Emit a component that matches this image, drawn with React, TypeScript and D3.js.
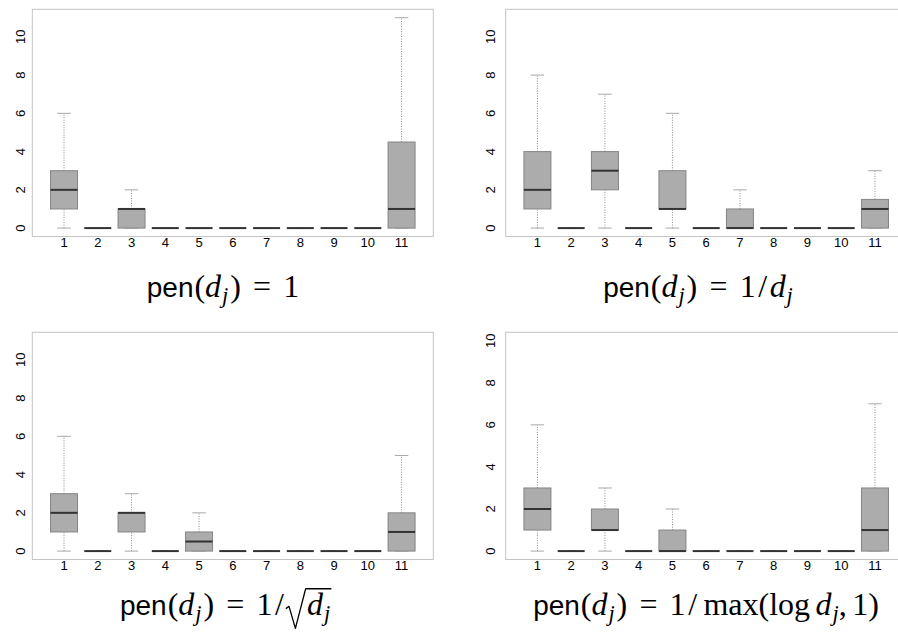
import React, { useEffect, useRef } from 'react';
import * as d3 from 'd3';

// x categories (dimension classes) and y tick labels
const categories = ['1', '2', '3', '4', '5', '6', '7', '8', '9', '10', '11'];
const yTickValues = [0, 2, 4, 6, 8, 10];

// each row: [min, lower hinge, median, upper hinge, max]
const statsPenOne = [
  [0, 1, 2, 3, 6],
  [0, 0, 0, 0, 0],
  [0, 0, 1, 1, 2],
  [0, 0, 0, 0, 0],
  [0, 0, 0, 0, 0],
  [0, 0, 0, 0, 0],
  [0, 0, 0, 0, 0],
  [0, 0, 0, 0, 0],
  [0, 0, 0, 0, 0],
  [0, 0, 0, 0, 0],
  [0, 0, 1, 4.5, 11],
];

const statsPenInvD = [
  [0, 1, 2, 4, 8],
  [0, 0, 0, 0, 0],
  [0, 2, 3, 4, 7],
  [0, 0, 0, 0, 0],
  [0, 1, 1, 3, 6],
  [0, 0, 0, 0, 0],
  [0, 0, 0, 1, 2],
  [0, 0, 0, 0, 0],
  [0, 0, 0, 0, 0],
  [0, 0, 0, 0, 0],
  [0, 0, 1, 1.5, 3],
];

const statsPenInvSqrt = [
  [0, 1, 2, 3, 6],
  [0, 0, 0, 0, 0],
  [0, 1, 2, 2, 3],
  [0, 0, 0, 0, 0],
  [0, 0, 0.5, 1, 2],
  [0, 0, 0, 0, 0],
  [0, 0, 0, 0, 0],
  [0, 0, 0, 0, 0],
  [0, 0, 0, 0, 0],
  [0, 0, 0, 0, 0],
  [0, 0, 1, 2, 5],
];

const statsPenInvLog = [
  [0, 1, 2, 3, 6],
  [0, 0, 0, 0, 0],
  [0, 1, 1, 2, 3],
  [0, 0, 0, 0, 0],
  [0, 0, 0, 1, 2],
  [0, 0, 0, 0, 0],
  [0, 0, 0, 0, 0],
  [0, 0, 0, 0, 0],
  [0, 0, 0, 0, 0],
  [0, 0, 0, 0, 0],
  [0, 0, 1, 3, 7],
];

// y axis upper limit of each panel
const yLimits = [11, 11, 11, 10];

// title pieces: k = font kind, g = gap before (em)
type Piece = { t?: string; k?: string; g?: number; sqrt?: 'open' | 'close' };
const head: Piece[] = [
  { t: 'pen', k: 'sans' },
  { t: '(', k: 'rm', g: 0.03 },
  { t: 'd', k: 'it' },
  { t: 'j', k: 'sub' },
  { t: ')', k: 'rm', g: 0.06 },
  { t: '=', k: 'rm', g: 0.38 },
  { t: '1', k: 'rm', g: 0.38 },
];
const slash: Piece[] = [{ t: '/', k: 'rm', g: 0.08 }];
const titles: Piece[][] = [
  head,
  [...head, ...slash, { t: 'd', k: 'it', g: 0.08 }, { t: 'j', k: 'sub' }],
  [...head, ...slash, { sqrt: 'open' }, { t: 'd', k: 'it' }, { t: 'j', k: 'sub' }, { sqrt: 'close' }],
  [...head, ...slash, { t: 'max', k: 'rm', g: 0.2 }, { t: '(', k: 'rm' }, { t: 'log', k: 'rm' },
    { t: 'd', k: 'it', g: 0.17 }, { t: 'j', k: 'sub' }, { t: ',', k: 'rm' }, { t: '1', k: 'rm', g: 0.17 }, { t: ')', k: 'rm' }],
];

const panelStats = [statsPenOne, statsPenInvD, statsPenInvSqrt, statsPenInvLog];

function BoxPanels() {
  const ref = useRef<SVGSVGElement>(null);

  useEffect(() => {
    const width = 898;
    const height = 637;
    const colX = [32.3, 505.7];
    const rowY = [9.3, 332.3];
    const plotW = 401;
    const plotH = 227.2;
    const labelDx = [7.2, 10.5];
    const titleCx = [223, 698, 226, 706];
    const titleBase = [297, 297, 615, 615];
    const titleSize = 32;
    const sansSize = 28;

    const svg = d3.select(ref.current);
    svg.selectAll('*').remove();
    svg.attr('width', width).attr('height', height);

    panelStats.forEach((stats, p) => {
      const col = p % 2;
      const row = Math.floor(p / 2);
      const x0 = colX[col];
      const y0 = rowY[row];
      const n = categories.length;
      const padX = 0.04 * n;
      const yMax = yLimits[p];

      const x = d3.scaleLinear().domain([0.5 - padX, n + 0.5 + padX]).range([x0, x0 + plotW]);
      const y = d3.scaleLinear().domain([-0.04 * yMax, yMax * 1.04]).range([y0 + plotH, y0]);
      const half = (x(2) - x(1)) * 0.4;
      const capHalf = half * 0.5;

      const g = svg.append('g');

      // frame
      g.append('rect')
        .attr('x', x0).attr('y', y0).attr('width', plotW).attr('height', plotH)
        .attr('fill', 'none').attr('stroke', '#c4c4c4').attr('stroke-width', 1);

      // y tick labels
      g.selectAll('.ylab')
        .data(yTickValues)
        .enter()
        .append('text')
        .attr('transform', (d) => `translate(${x0 - labelDx[col]},${y(d)}) rotate(-90)`)
        .attr('text-anchor', 'middle')
        .style('font-family', 'Liberation Sans, Arial, sans-serif')
        .style('font-size', '13px')
        .text((d) => d);

      // x labels
      g.selectAll('.xlab')
        .data(categories)
        .enter()
        .append('text')
        .attr('x', (d, i) => x(i + 1))
        .attr('y', y0 + plotH + 10)
        .attr('text-anchor', 'middle')
        .style('font-family', 'Liberation Sans, Arial, sans-serif')
        .style('font-size', '13px')
        .text((d) => d);

      const boxes = g.selectAll('.box')
        .data(stats)
        .enter()
        .append('g')
        .attr('class', 'box');

      // whiskers
      boxes.append('line')
        .attr('x1', (d, i) => x(i + 1)).attr('x2', (d, i) => x(i + 1))
        .attr('y1', (d) => y(d[3])).attr('y2', (d) => y(d[4]))
        .attr('stroke', '#8a8a8a').attr('stroke-dasharray', '1,1.5');
      boxes.append('line')
        .attr('x1', (d, i) => x(i + 1)).attr('x2', (d, i) => x(i + 1))
        .attr('y1', (d) => y(d[0])).attr('y2', (d) => y(d[1]))
        .attr('stroke', '#8a8a8a').attr('stroke-dasharray', '1,1.5');

      // caps
      [0, 4].forEach((k) => {
        boxes.append('line')
          .attr('x1', (d, i) => x(i + 1) - capHalf).attr('x2', (d, i) => x(i + 1) + capHalf)
          .attr('y1', (d) => y(d[k])).attr('y2', (d) => y(d[k]))
          .attr('stroke', '#a8a8a8').attr('stroke-width', 1);
      });

      // box
      boxes.append('rect')
        .attr('x', (d, i) => x(i + 1) - half)
        .attr('y', (d) => y(d[3]))
        .attr('width', half * 2)
        .attr('height', (d) => y(d[1]) - y(d[3]))
        .attr('fill', '#acacac')
        .attr('stroke', '#858585')
        .attr('stroke-width', 1);

      // median
      boxes.append('line')
        .attr('x1', (d, i) => x(i + 1) - half).attr('x2', (d, i) => x(i + 1) + half)
        .attr('y1', (d) => y(d[2])).attr('y2', (d) => y(d[2]))
        .attr('stroke', '#333').attr('stroke-width', 2);

      // title, built piece by piece so the radical can be drawn
      const tg = svg.append('g');
      const base = titleBase[p];
      const s = titleSize;
      let cursor = 0;
      let sqrtStart = 0;
      titles[p].forEach((pc) => {
        if (pc.sqrt === 'open') {
          sqrtStart = cursor + 0.06 * s;
          cursor = sqrtStart + 0.66 * s;
          return;
        }
        if (pc.sqrt === 'close') {
          tg.append('path')
            .attr('d', `M${sqrtStart},${base - 0.2 * s} L${sqrtStart + 0.1 * s},${base - 0.27 * s} L${sqrtStart + 0.3 * s},${base + 0.42 * s} L${sqrtStart + 0.62 * s},${base - 0.82 * s} L${cursor + 0.04 * s},${base - 0.82 * s}`)
            .attr('fill', 'none').attr('stroke', '#000').attr('stroke-width', 1.3)
            .attr('stroke-linejoin', 'round');
          cursor += 0.06 * s;
          return;
        }
        cursor += (pc.g || 0) * s;
        const sub = pc.k === 'sub';
        const size = pc.k === 'sans' ? sansSize : sub ? s * 0.7 : s;
        const t = tg.append('text')
          .attr('x', cursor)
          .attr('y', base + (sub ? 0.2 * s : 0))
          .style('font-family', pc.k === 'sans' ? 'Liberation Sans, Arial, sans-serif' : 'Liberation Serif, Times New Roman, serif')
          .style('font-style', pc.k === 'it' || sub ? 'italic' : 'normal')
          .style('font-size', size + 'px')
          .text(pc.t || '');
        const w = (t.node() as SVGTextElement).getComputedTextLength();
        cursor += w + (pc.k === 'it' ? 0.03 * s : 0);
      });
      tg.attr('transform', `translate(${titleCx[p] - cursor / 2},0)`);
    });
  }, []);

  return <svg ref={ref} style={{ display: 'block', background: 'white' }} />;
}

export default function App() {
  return (
    <div style={{ position: 'absolute', left: 0, top: 0, width: 898, height: 637, background: 'white', overflow: 'hidden' }}>
      <BoxPanels />
    </div>
  );
}
